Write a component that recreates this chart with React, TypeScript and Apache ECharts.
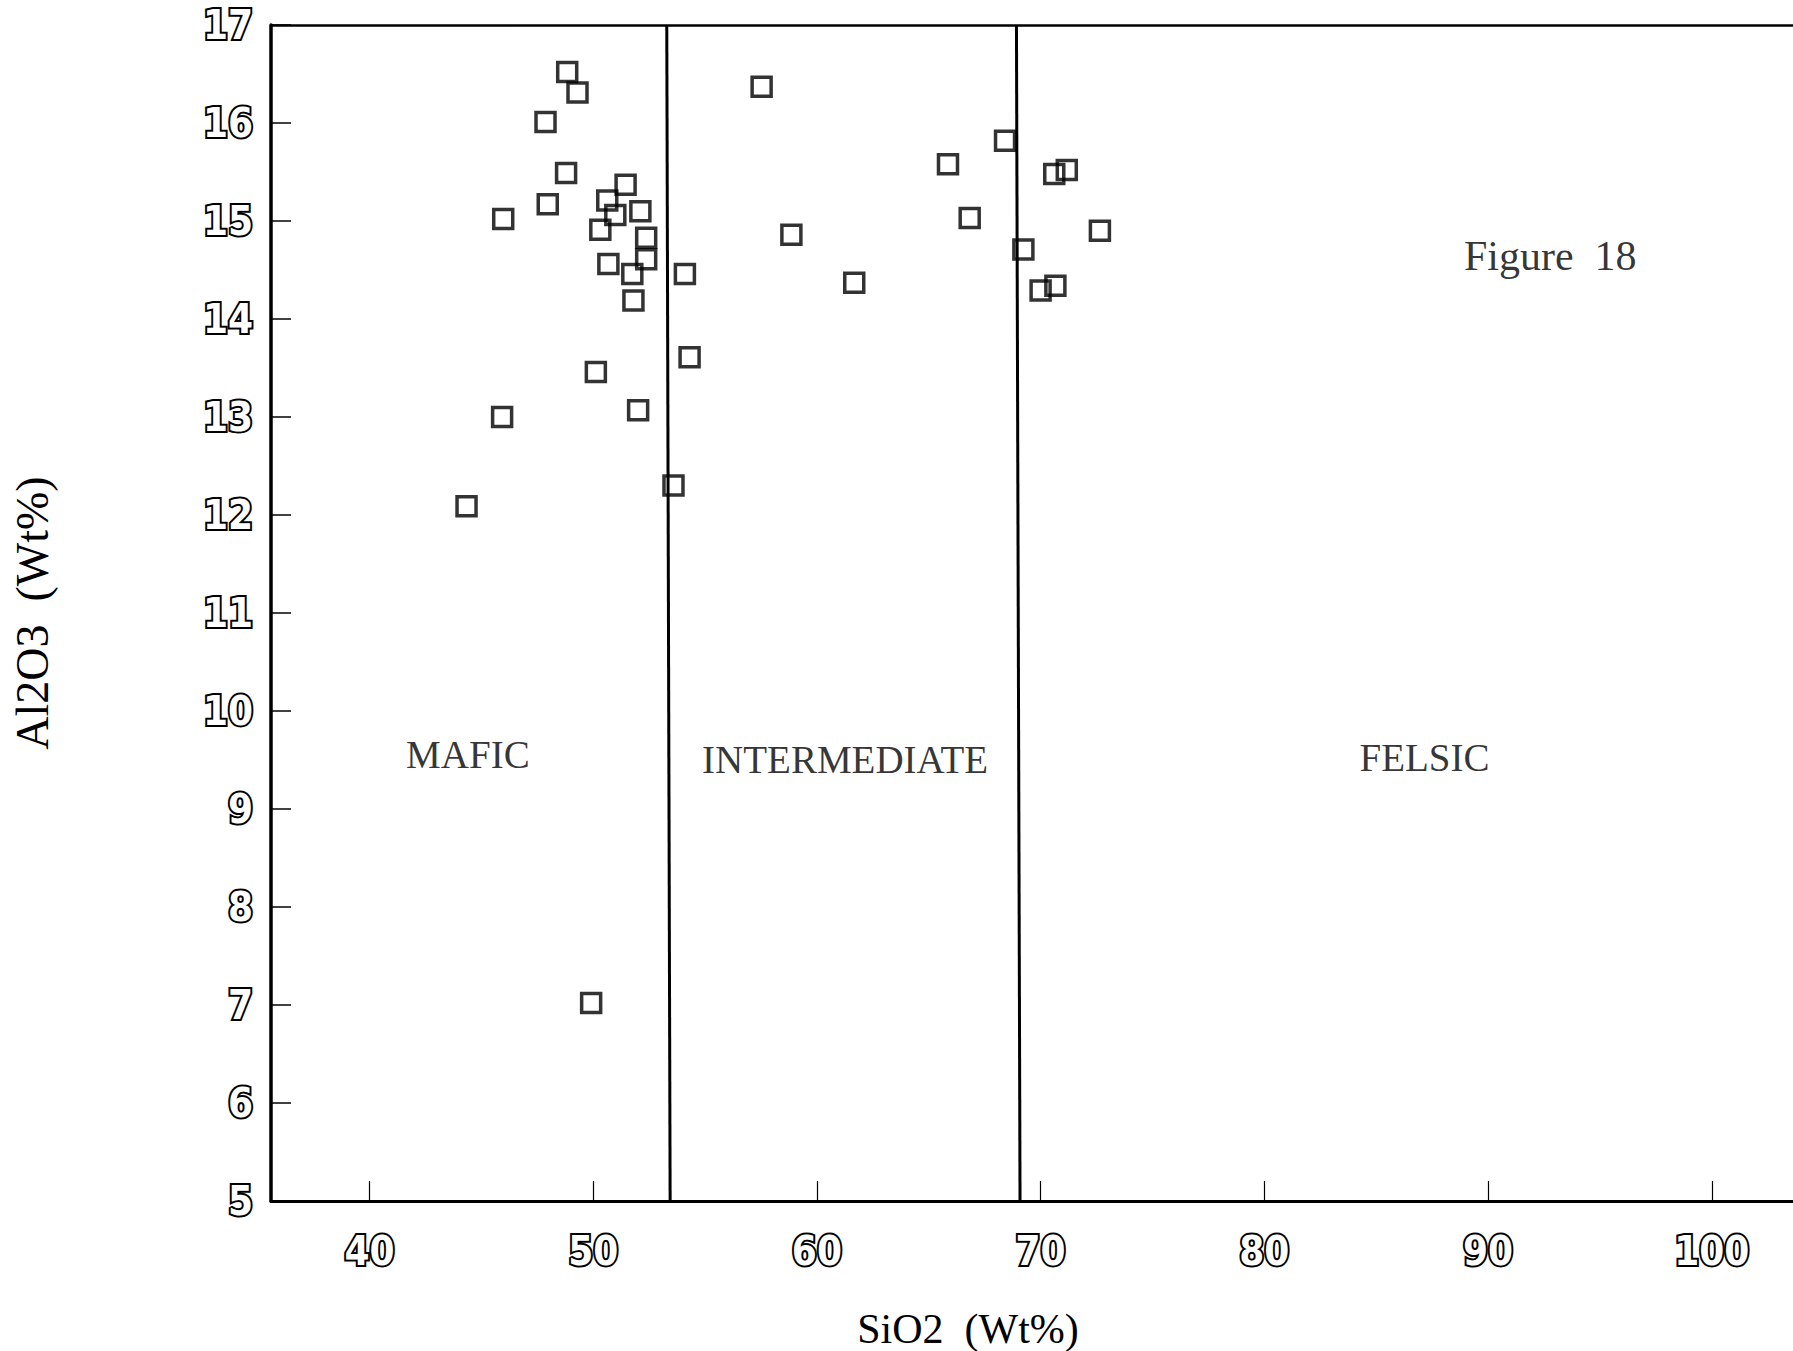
import React, { useEffect, useRef } from "react";
import * as echarts from "echarts";

// SiO2 (Wt%) and Al2O3 (Wt%) values
const sio2 = [
  48.84, 49.3, 47.87, 48.79, 47.97, 45.98, 51.45, 50.63, 50.99, 52.11, 50.32,
  52.37, 52.37, 50.68, 51.75, 51.8, 50.12, 52.01, 45.93, 44.34, 49.91, 53.59,
  54.1, 54.31, 57.53, 58.86, 61.67, 65.86, 66.83, 68.41,
  69.23, 70.61, 71.17, 72.65, 70.0, 70.66,
];
const al2o3 = [
  16.52, 16.31, 16.01, 15.49, 15.17, 15.02, 15.37, 15.21, 15.06, 15.1, 14.91,
  14.83, 14.61, 14.56, 14.46, 14.19, 13.46, 13.07, 13.0, 12.09, 7.02, 12.3,
  14.46, 13.61, 16.37, 14.86, 14.37, 15.58, 15.03, 15.82,
  14.71, 15.48, 15.52, 14.9, 14.29, 14.34,
];

const xTicks = [40, 50, 60, 70, 80, 90, 100];
const xMin = 35.6;
const xMax = 103.63;
const yMin = 5;
const yMax = 17;

// Boundary lines between fields (top x, bottom x)
const dividerTopX = [53.29, 68.92];
const dividerBottomX = [53.44, 69.08];

const regionNames = ["MAFIC", "INTERMEDIATE", "FELSIC"];
const regionX = [44.4, 61.26, 87.16];
const regionY = [9.56, 9.51, 9.53];

const figureTitle = "Figure 18";
const figureX = 92.78;
const figureY = 14.64;

const xTitle = "SiO2  (Wt%)";
const yTitle = "Al2O3  (Wt%)";

const serif = "'Liberation Serif', 'DejaVu Serif', serif";
const tickFont = "'Liberation Sans Narrow', 'DejaVu Sans Condensed', 'Liberation Sans', sans-serif";

export default function App() {
  const ref = useRef<HTMLDivElement>(null);

  useEffect(() => {
    if (!ref.current) return;
    const chart = echarts.init(ref.current, null, { renderer: "svg" });

    const tickLabel = {
      fontFamily: tickFont,
      fontWeight: "bold" as const,
      fontSize: 40,
      color: "#ffffff",
      textBorderColor: "#000000",
      textBorderWidth: 4,
    };

    const dividerSeries = dividerTopX.map((tx, i) => ({
      type: "line",
      data: [
        [tx, yMax],
        [dividerBottomX[i], yMin],
      ],
      symbol: "none",
      lineStyle: { color: "#000", width: 3 },
      silent: true,
      z: 3,
    }));

    const option: any = {
      animation: false,
      backgroundColor: "#ffffff",
      grid: {
        left: 271,
        right: 0,
        top: 25,
        bottom: 150,
        show: false,
      },
      graphic: [
        {
          type: "text",
          x: 968,
          y: 1329,
          style: {
            text: xTitle,
            fontFamily: serif,
            fontSize: 42,
            fill: "#000",
            align: "center",
            verticalAlign: "middle",
          },
        },
      ],
      xAxis: [
        {
          type: "value",
          min: xMin,
          max: xMax,
          axisLine: { show: true, lineStyle: { color: "#000", width: 3 } },
          axisTick: {
            show: true,
            inside: true,
            length: 20,
            customValues: xTicks,
            lineStyle: { color: "#000", width: 1.2 },
          },
          axisLabel: {
            ...tickLabel,
            margin: 30,
            customValues: xTicks,
            formatter: (v: number) => String(v),
          },
          splitLine: { show: false },
        },
        {
          type: "value",
          position: "top",
          min: xMin,
          max: xMax,
          axisLine: { show: true, lineStyle: { color: "#000", width: 2.5 } },
          axisTick: { show: false },
          axisLabel: { show: false },
          splitLine: { show: false },
        },
      ],
      yAxis: {
        type: "value",
        min: yMin,
        max: yMax,
        interval: 1,
        name: yTitle,
        nameLocation: "middle",
        nameGap: 216,
        nameRotate: 90,
        nameTextStyle: { fontFamily: serif, fontSize: 46, color: "#000" },
        axisLine: { show: true, lineStyle: { color: "#000", width: 3.5 } },
        axisTick: {
          show: true,
          inside: true,
          length: 20,
          lineStyle: { color: "#000", width: 1.5 },
        },
        axisLabel: { ...tickLabel, margin: 18 },
        splitLine: { show: false },
      },
      series: [
        ...dividerSeries,
        {
          type: "scatter",
          data: sio2.map((x, i) => [x, al2o3[i]]),
          symbol: "rect",
          symbolSize: 19,
          itemStyle: {
            color: "rgba(0,0,0,0)",
            borderColor: "#000",
            borderWidth: 3.5,
          },
          z: 4,
        },
        {
          type: "scatter",
          data: [
            ...regionNames.map((n, i) => ({ name: n, value: [regionX[i], regionY[i]] })),
          ],
          symbolSize: 1,
          itemStyle: { color: "rgba(0,0,0,0)" },
          label: {
            show: true,
            position: "inside",
            formatter: (p: any) => p.name,
            fontFamily: serif,
            fontSize: 39,
            color: "#000",
          },
          silent: true,
          z: 5,
        },
        {
          type: "scatter",
          data: [{ name: figureTitle, value: [figureX, figureY] }],
          symbolSize: 1,
          itemStyle: { color: "rgba(0,0,0,0)" },
          label: {
            show: true,
            position: "inside",
            formatter: (p: any) => p.name.replace(" ", "  "),
            fontFamily: serif,
            fontSize: 42,
            color: "#000",
          },
          silent: true,
          z: 5,
        },
      ],
    };

    chart.setOption(option);
    return () => chart.dispose();
  }, []);

  return (
    <div
      ref={ref}
      style={{ position: "fixed", left: 0, top: 0, width: 1793, height: 1351, background: "#fff" }}
    />
  );
}
